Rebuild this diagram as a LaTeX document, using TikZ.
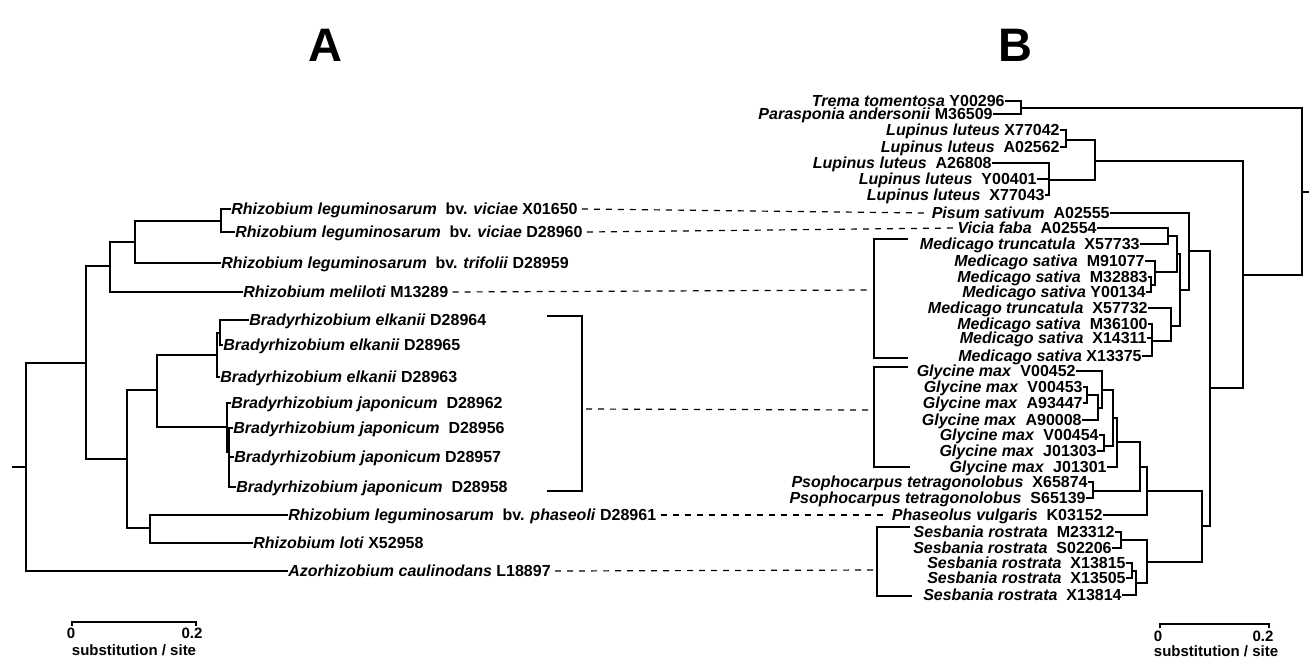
\documentclass[tikz,border=0pt]{standalone}
\usepackage{fontspec}
\setmainfont{Liberation Sans}
\newcommand{\spn}[1]{\textit{#1}}
\tikzset{
  lab/.style={inner sep=0pt, font=\fontsize{8}{9}\selectfont\bfseries, text height=5.8pt, text depth=0pt},
  labA/.style={lab, anchor=west},
  labB/.style={lab, anchor=east},
  br/.style={line width=0.7pt},
  dsh/.style={line width=0.6pt, dash pattern=on 3pt off 3pt},
  ttl/.style={font=\fontsize{23.5}{26}\selectfont\bfseries, inner sep=0pt},
  scl/.style={font=\fontsize{7.5}{9}\selectfont\bfseries, inner sep=0pt}
}
\begin{document}
\begin{tikzpicture}[x=0.5pt, y=-0.5pt]
\path[use as bounding box] (0,0) rectangle (1309,660);
\node[ttl] (TA) at (325,45) {A};
\node[ttl] (TB) at (1015,45) {B};
% ---------- Tree A labels
\node[labA] (vic1) at (231,209) {\spn{Rhizobium leguminosarum}~ bv. \spn{viciae} X01650};
\node[labA] (vic2) at (235,232) {\spn{Rhizobium leguminosarum}~ bv. \spn{viciae} D28960};
\node[labA] (tri) at (221,263) {\spn{Rhizobium leguminosarum}~ bv. \spn{trifolii} D28959};
\node[labA] (mel) at (243,292) {\spn{Rhizobium meliloti} M13289};
\node[labA] (elk1) at (249,320) {\spn{Bradyrhizobium elkanii} D28964};
\node[labA] (elk2) at (223,345) {\spn{Bradyrhizobium elkanii} D28965};
\node[labA] (elk3) at (220,377) {\spn{Bradyrhizobium elkanii} D28963};
\node[labA] (jap1) at (231,403) {\spn{Bradyrhizobium japonicum}~ D28962};
\node[labA] (jap2) at (233,428) {\spn{Bradyrhizobium japonicum}~ D28956};
\node[labA] (jap3) at (234,457) {\spn{Bradyrhizobium japonicum} D28957};
\node[labA] (jap4) at (236,487) {\spn{Bradyrhizobium japonicum}~ D28958};
\node[labA] (pha) at (288,515) {\spn{Rhizobium leguminosarum}~ bv. \spn{phaseoli} D28961};
\node[labA] (lot) at (253,543) {\spn{Rhizobium loti} X52958};
\node[labA] (azo) at (288,571) {\spn{Azorhizobium caulinodans} L18897};
% ---------- Tree A internal nodes
\coordinate (rA) at (12,467);
\coordinate (a0) at (26,467);
\coordinate (a1) at (86,363);
\coordinate (a2) at (110,266);
\coordinate (a3) at (135,242);
\coordinate (a4) at (221,221);
\coordinate (a6) at (127,459);
\coordinate (a7) at (157,390);
\coordinate (a8) at (217,355);
\coordinate (a8b) at (220,333);
\coordinate (a9) at (227,427);
\coordinate (a9b) at (229,452);
\coordinate (a10) at (150,528);
\begin{scope}[br]
\draw (rA) -- (a0);
\draw (a1) -| (a0) |- (azo.west);
\draw (a2) -| (a1) |- (a6);
\draw (a3) -| (a2) |- (mel.west);
\draw (a4) -| (a3) |- (tri.west);
\draw (vic1.west) -| (a4) |- (vic2.west);
\draw (a7) -| (a6) |- (a10);
\draw (a8) -| (a7) |- (a9);
\draw (a8b) -| (a8) |- (elk3.west);
\draw (elk1.west) -| (a8b) |- (elk2.west);
\draw (jap1.west) -| (a9) |- (a9b);
\draw (jap2.west) -| (a9b) |- (jap4.west);
\draw (a9b |- jap3.west) -- (jap3.west);
\draw (pha.west) -| (a10) |- (lot.west);
\end{scope}
% bracket A
\coordinate (bkA1) at (547,316);
\coordinate (bkA) at (582,409);
\coordinate (bkA2) at (547,491);
\draw[br] (bkA1) -| (bkA) |- (bkA2);
% ---------- Tree B labels
\node[labB] (t1) at (1005,101) {\spn{Trema tomentosa} Y00296};
\node[labB] (t2) at (993,114) {\spn{Parasponia andersonii} M36509};
\node[labB] (l1) at (1060,130) {\spn{Lupinus luteus} X77042};
\node[labB] (l2) at (1060,147) {\spn{Lupinus luteus}~ A02562};
\node[labB] (l3) at (992,163) {\spn{Lupinus luteus}~ A26808};
\node[labB] (l4) at (1037,179) {\spn{Lupinus luteus}~ Y00401};
\node[labB] (l5) at (1045,195) {\spn{Lupinus luteus}~ X77043};
\node[labB] (pis) at (1110,213) {\spn{Pisum sativum}~ A02555};
\node[labB] (vic) at (1097,228) {\spn{Vicia faba}~ A02554};
\node[labB] (mt1) at (1140,244) {\spn{Medicago truncatula}~ X57733};
\node[labB] (ms1) at (1145,261) {\spn{Medicago sativa}~ M91077};
\node[labB] (ms2) at (1148,277) {\spn{Medicago sativa}~ M32883};
\node[labB] (ms3) at (1146,292) {\spn{Medicago sativa} Y00134};
\node[labB] (mt2) at (1148,308) {\spn{Medicago truncatula}~ X57732};
\node[labB] (ms4) at (1148,324) {\spn{Medicago sativa}~ M36100};
\node[labB] (ms5) at (1147,338) {\spn{Medicago sativa}~ X14311};
\node[labB] (ms6) at (1142,356) {\spn{Medicago sativa} X13375};
\node[labB] (g1) at (1076,371) {\spn{Glycine max}~ V00452};
\node[labB] (g2) at (1083,387) {\spn{Glycine max}~ V00453};
\node[labB] (g3) at (1083,403) {\spn{Glycine max}~ A93447};
\node[labB] (g4) at (1082,420) {\spn{Glycine max}~ A90008};
\node[labB] (g5) at (1099,435) {\spn{Glycine max}~ V00454};
\node[labB] (g6) at (1097,451) {\spn{Glycine max}~ J01303};
\node[labB] (g7) at (1107,467) {\spn{Glycine max}~ J01301};
\node[labB] (ps1) at (1088,482) {\spn{Psophocarpus tetragonolobus}~ X65874};
\node[labB] (ps2) at (1086,498) {\spn{Psophocarpus tetragonolobus}~ S65139};
\node[labB] (ph) at (1103,515) {\spn{Phaseolus vulgaris}~ K03152};
\node[labB] (s1) at (1115,532) {\spn{Sesbania rostrata}~ M23312};
\node[labB] (s2) at (1112,548) {\spn{Sesbania rostrata}~ S02206};
\node[labB] (s3) at (1126,563) {\spn{Sesbania rostrata}~ X13815};
\node[labB] (s4) at (1126,578) {\spn{Sesbania rostrata}~ X13505};
\node[labB] (s5) at (1122,595) {\spn{Sesbania rostrata}~ X13814};
% ---------- Tree B internal nodes
\coordinate (bT) at (1021,108);
\coordinate (bR) at (1302,192);
\coordinate (bRs) at (1309,192);
\coordinate (bU) at (1243,275);
\coordinate (bL) at (1095,161);
\coordinate (bL1) at (1066,140);
\coordinate (bL2) at (1049,180);
\coordinate (bM) at (1210,388);
\coordinate (bP) at (1189,251);
\coordinate (bQ) at (1202,526);
\coordinate (bP2) at (1180,290);
\coordinate (bP3) at (1177,254);
\coordinate (bP4) at (1171,326);
\coordinate (bP5) at (1168,236);
\coordinate (bP6) at (1155,272);
\coordinate (bP7) at (1151,285);
\coordinate (bP8) at (1152,341);
\coordinate (bG) at (1147,491);
\coordinate (bS) at (1147,562);
\coordinate (bG1) at (1140,467);
\coordinate (bG2) at (1117,442);
\coordinate (bPs) at (1093,491);
\coordinate (bG3) at (1113,418);
\coordinate (bG4) at (1102,390);
\coordinate (bG5) at (1104,446);
\coordinate (bG6) at (1098,408);
\coordinate (bG7) at (1087,395);
\coordinate (bS1) at (1121,540);
\coordinate (bS2) at (1136,583);
\coordinate (bS3) at (1132,571);
\begin{scope}[br]
\draw (t1.east) -| (bT) |- (t2.east);
\draw (bT) -| (bR) |- (bU);
\draw (bR) -- (bRs);
\draw (bL) -| (bU) |- (bM);
\draw (bL1) -| (bL) |- (bL2);
\draw (l1.east) -| (bL1) |- (l2.east);
\draw (l3.east) -| (bL2) |- (l5.east);
\draw (l4.east) -- (bL2 |- l4.east);
\draw (bP) -| (bM) |- (bQ);
\draw (pis.east) -| (bP) |- (bP2);
\draw (bP3) -| (bP2) |- (bP4);
\draw (bP5) -| (bP3) |- (bP6);
\draw (vic.east) -| (bP5) |- (mt1.east);
\draw (ms1.east) -| (bP6) |- (bP7);
\draw (ms2.east) -| (bP7) |- (ms3.east);
\draw (mt2.east) -| (bP4) |- (bP8);
\draw (ms4.east) -| (bP8) |- (ms6.east);
\draw (ms5.east) -- (bP8 |- ms5.east);
\draw (bG) -| (bQ) |- (bS);
\draw (bG1) -| (bG) |- (ph.east);
\draw (bG2) -| (bG1) |- (bPs);
\draw (ps1.east) -| (bPs) |- (ps2.east);
\draw (bG3) -| (bG2) |- (g7.east);
\draw (bG4) -| (bG3) |- (bG5);
\draw (g5.east) -| (bG5) |- (g6.east);
\draw (g1.east) -| (bG4) |- (bG6);
\draw (bG7) -| (bG6) |- (g4.east);
\draw (g2.east) -| (bG7) |- (g3.east);
\draw (bS1) -| (bS) |- (bS2);
\draw (s1.east) -| (bS1) |- (s2.east);
\draw (bS3) -| (bS2) |- (s5.east);
\draw (s3.east) -| (bS3) |- (s4.east);
\end{scope}
% left brackets of B
\coordinate (bkM1) at (908,239); \coordinate (bkM) at (874,290); \coordinate (bkM2) at (908,358);
\coordinate (bkG1) at (908,367); \coordinate (bkG) at (874,410); \coordinate (bkG2) at (910,467);
\coordinate (bkS1) at (910,527); \coordinate (bkS) at (877,570); \coordinate (bkS2) at (912,596);
\draw[br] (bkM1) -| (bkM) |- (bkM2);
\draw[br] (bkG1) -| (bkG) |- (bkG2);
\draw[br] (bkS1) -| (bkS) |- (bkS2);
% dashed correspondences
\draw[dsh] ([xshift=2pt]vic1.east) -- ([xshift=-2pt]pis.west);
\draw[dsh] ([xshift=2pt]vic2.east) -- ([xshift=-2pt]vic.west);
\draw[dsh] ([xshift=2pt]mel.east) -- ([xshift=-3pt]bkM);
\draw[dsh] ([xshift=2pt]bkA) -- ([xshift=-3pt]bkG);
\draw[dsh] ([xshift=2pt]pha.east) -- ([xshift=-2pt]ph.west);
\draw[dsh] ([xshift=2pt]azo.east) -- ([xshift=-1pt]bkS);
% scale bars
\coordinate (sA1) at (72,622); \coordinate (sA2) at (196,622);
\draw[line width=0.6pt] ([yshift=-2pt]sA1) -- (sA1) -- (sA2) -- ([yshift=-2pt]sA2);
\node[scl] (sA0) at (71,633) {0};
\node[scl] (sAt) at (192,633) {0.2};
\node[scl] (sAl) at (134,650) {substitution / site};
\coordinate (sB1) at (1160,624); \coordinate (sB2) at (1269,624);
\draw[line width=0.6pt] ([yshift=-2pt]sB1) -- (sB1) -- (sB2) -- ([yshift=-2pt]sB2);
\node[scl] (sB0) at (1158,636) {0};
\node[scl] (sBt) at (1263,636) {0.2};
\node[scl] (sBl) at (1216,651) {substitution / site};
\end{tikzpicture}
\end{document}
